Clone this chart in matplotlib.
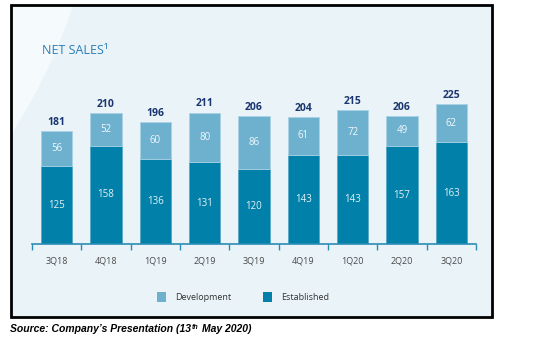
import numpy as np
import matplotlib.pyplot as plt
from matplotlib.patches import Rectangle, Polygon, Patch

quarters = ["3Q18", "4Q18", "1Q19", "2Q19", "3Q19", "4Q19", "1Q20", "2Q20", "3Q20"]
established = [125, 158, 136, 131, 120, 143, 143, 157, 163]
development = [56, 52, 60, 80, 86, 61, 72, 49, 62]
totals = [181, 210, 196, 211, 206, 204, 215, 206, 225]

col_dev = "#6DB1CF"
col_est = "#0181A9"
bg = "#EAF4F8"

plt.rcParams["font.family"] = ["Open Sans", "DejaVu Sans"]

fig = plt.figure(figsize=(5.36, 3.41), dpi=100)
W, H = 536, 341


def fx(px):
    return px / W


def fy(py):
    return 1 - py / H


# panel background
fig.patches.append(Rectangle((fx(11), fy(317)), fx(481), 312 / H,
                             transform=fig.transFigure, facecolor=bg,
                             edgecolor="none", zorder=0))
# lighter swoosh in the top-left corner
arc_t = np.linspace(0, 1, 30)
arc = [(fx(73 - 62 * t + 20 * t * (1 - t)), fy(5 + 130 * t)) for t in arc_t]
fig.patches.append(Polygon([(fx(11), fy(5))] + arc + [(fx(11), fy(135))],
                           closed=True, transform=fig.transFigure,
                           facecolor="#F5FAFC", edgecolor="none", zorder=0.5))

ax = fig.add_axes([fx(32), fy(244), 444 / W, 162 / H])
ax.set_zorder(2)
ax.patch.set_alpha(0)
x = np.arange(len(quarters))
ax.bar(x, established, width=0.64, color=col_est, edgecolor="#4FA3C4",
       linewidth=0.5, zorder=2)
ax.bar(x, development, width=0.64, bottom=established, color=col_dev,
       edgecolor="#A8D2E4", linewidth=0.6, zorder=2)

for i in range(len(quarters)):
    ax.text(x[i], established[i] / 2, str(established[i]), ha="center", va="center",
            color="#E6F1F6", fontsize=7)
    ax.text(x[i], established[i] + development[i] / 2, str(development[i]),
            ha="center", va="center", color="#F2F8FB", fontsize=7)
    ax.text(x[i], totals[i] + 5, str(totals[i]), ha="center", va="bottom",
            color="#1A3570", fontsize=7.5, fontweight="bold")

ax.set_xlim(-0.5, len(quarters) - 0.5)
ax.set_ylim(0, 260)
for s in ["top", "right", "left"]:
    ax.spines[s].set_visible(False)
ax.spines["bottom"].set_color("#2B8CB3")
ax.spines["bottom"].set_linewidth(1.2)
ax.set_yticks([])
ax.set_xticks(np.arange(-0.5, len(quarters)))
ax.set_xticklabels([])
ax.tick_params(axis="x", length=4, width=1, color="#2B8CB3", direction="out")
ax.set_xticks(x, minor=True)
ax.set_xticklabels(quarters, minor=True)
ax.tick_params(axis="x", which="minor", length=0, pad=9, labelsize=6.5,
               labelcolor="#4A4A4A")

fig.text(fx(42), fy(50), "NET SALES¹", color="#2A7DB8", fontsize=9,
         va="center", ha="left")

handles = [Patch(facecolor=col_dev, label="Development"),
           Patch(facecolor=col_est, label="Established")]
fig.legend(handles=handles, loc="center", bbox_to_anchor=(fx(243), fy(297)),
           ncol=2, frameon=False, fontsize=6.5, handlelength=1.0, handleheight=1.4,
           columnspacing=3.5, handletextpad=1.0, labelcolor="#333333")

# frame on top of everything
fig.patches.append(Rectangle((fx(11), fy(317)), fx(481), 312 / H,
                             transform=fig.transFigure, facecolor="none",
                             edgecolor="black", linewidth=2, zorder=5))

# source line, with a small raised "th"
src = dict(family="Liberation Sans", fontweight="bold", style="italic",
           color="black", ha="left", va="baseline")
renderer = fig.canvas.get_renderer()
t1 = fig.text(fx(10), fy(332), "Source: Company’s Presentation (13", fontsize=7.5,
              **src)
x1 = t1.get_window_extent(renderer).x1 + 1
t2 = fig.text(x1 / W, fy(329), "th", fontsize=5, **src)
x2 = t2.get_window_extent(renderer).x1 + 3
fig.text(x2 / W, fy(332), "May 2020)", fontsize=7.5, **src)

fig.savefig("out.png", dpi=100)
